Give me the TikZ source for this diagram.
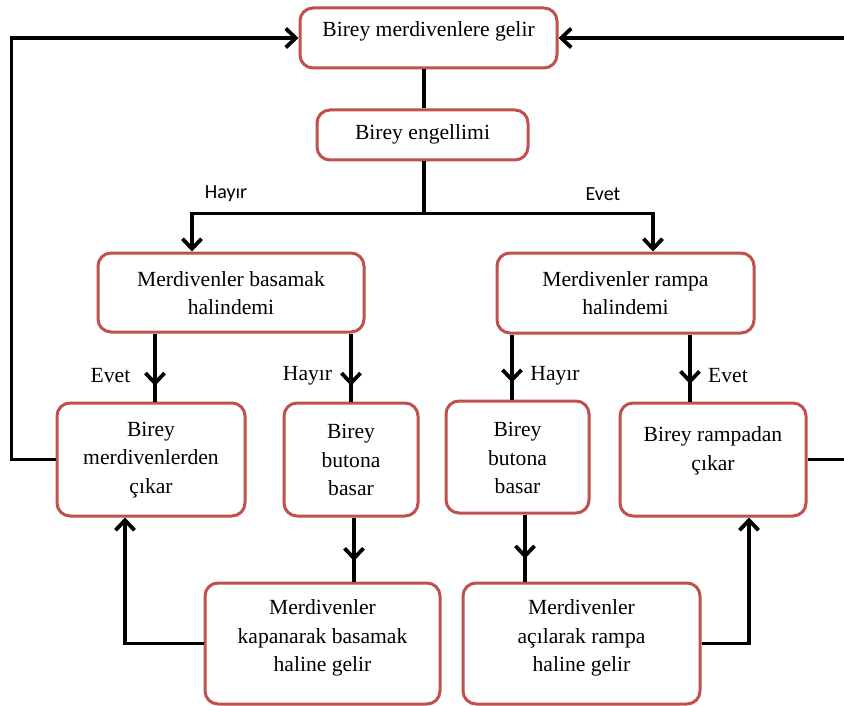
\documentclass[tikz,border=0pt]{standalone}
\usepackage{fontspec}
\setmainfont{Liberation Serif}
\newfontfamily\labelsans{Carlito}
\usetikzlibrary{arrows.meta,decorations.markings,calc}
\definecolor{boxred}{HTML}{C0504D}
\begin{document}
\begin{tikzpicture}[x=1pt,y=-1pt,
  box/.style={draw=boxred, line width=3pt, rounded corners=13pt, fill=white, inner sep=0pt},
  txt/.style={align=center, inner sep=0pt, font=\fontsize{21.6}{28.5}\selectfont},
  conn/.style={line width=3.8pt, black},
  tip/.style={-{Straight Barb[length=10pt,width=19pt]}},
  midarrow/.style={postaction={decorate}, decoration={markings, mark=at position #1 with {\arrow{Straight Barb[length=10pt,width=19pt]}}}},
  sanslbl/.style={font=\labelsans\fontsize{20}{22}\selectfont, inner sep=0pt},
  serlbl/.style={font=\fontsize{21.6}{25}\selectfont, inner sep=0pt}]
\clip (0,0) rectangle (844,706);
\fill[white] (0,0) rectangle (844,706);

% boxes
\node[box, minimum width=257pt, minimum height=60pt] (T) at (428.5,38) {};
\node[txt] (Tt) at (428.5,31) {Birey merdivenlere gelir};
\node[box, minimum width=211pt, minimum height=50pt] (E) at (422.5,135) {};
\node[txt] (Et) at (422.5,134) {Birey engellimi};
\node[box, minimum width=266pt, minimum height=79pt] (B) at (231,292.5) {};
\node[txt] (Bt) at (231,293) {Merdivenler basamak\\halindemi};
\node[box, minimum width=257pt, minimum height=80pt] (R) at (625.5,293) {};
\node[txt] (Rt) at (625.5,293) {Merdivenler rampa\\halindemi};
\node[box, minimum width=188pt, minimum height=113pt] (MC) at (151,459.5) {};
\node[txt] (MCt) at (151,460) {Birey\\merdivenlerden\\çıkar};
\node[box, minimum width=134pt, minimum height=113pt] (BL) at (351,459.5) {};
\node[txt] (BLt) at (351,460) {Birey\\butona\\basar};
\node[box, minimum width=143pt, minimum height=112pt] (BR) at (517.5,457) {};
\node[txt] (BRt) at (517.5,458) {Birey\\butona\\basar};
\node[box, minimum width=186pt, minimum height=113pt] (RC) at (713,459.5) {};
\node[txt] (RCt) at (713,451) {Birey rampadan\\çıkar};
\node[box, minimum width=235pt, minimum height=121pt] (K) at (322.5,643.5) {};
\node[txt] (Kt) at (322.5,638) {Merdivenler\\kapanarak basamak\\haline gelir};
\node[box, minimum width=237pt, minimum height=121pt] (A) at (581.5,643.5) {};
\node[txt] (At) at (581.5,638) {Merdivenler\\açılarak rampa\\haline gelir};

% labels
\node[sanslbl] (lh) at (226,194) {Hayır};
\node[sanslbl] (le) at (603,194) {Evet};
\node[serlbl] (l1) at (110.5,376) {Evet};
\node[serlbl] (l2) at (307.5,376) {Hayır};
\node[serlbl] (l3) at (555,376) {Hayır};
\node[serlbl] (l4) at (728,376) {Evet};

% helper coordinates
\coordinate (ein) at ($(E.north)+(1.5,0)$);
\coordinate (mcin) at ($(MC.north)+(4,0)$);
\coordinate (brin) at ($(BR.north)+(-5.5,0)$);
\coordinate (rcin) at ($(RC.north)+(-23,0)$);
\coordinate (blout) at ($(BL.south)+(3,0)$);
\coordinate (brout) at ($(BR.south)+(7.5,0)$);
\coordinate (bin) at ($(B.north)+(-39,0)$);
\coordinate (rin) at ($(R.north)+(27.5,0)$);
\coordinate (mcback) at ($(MC.south)+(-26,0)$);
\coordinate (rcback) at ($(RC.south)+(36,0)$);

% connectors
\draw[conn] (ein |- T.south) -- (ein);
\draw[conn] (ein |- E.south) -- ++(0,52) coordinate (J);
\draw[conn, tip] (J) -| (bin);
\draw[conn, tip] (J) -| (rin);

\draw[conn, midarrow=0.77] (mcin |- B.south) -- (mcin);
\draw[conn, midarrow=0.77] (BL.north |- B.south) -- (BL.north);
\draw[conn, midarrow=0.74] (brin |- R.south) -- (brin);
\draw[conn, midarrow=0.74] (rcin |- R.south) -- (rcin);

\draw[conn, midarrow=0.68] (blout) -- (blout |- K.north);
\draw[conn, midarrow=0.66] (brout) -- (brout |- A.north);

\draw[conn, tip] (K.west) -| (mcback);
\draw[conn, tip] (A.east) -| (rcback);
\draw[conn, tip] (MC.west) -- ++(-44,0) |- (T.west);
\draw[conn, tip] (RC.east) -- ++(60,0) |- (T.east);
\end{tikzpicture}
\end{document}
